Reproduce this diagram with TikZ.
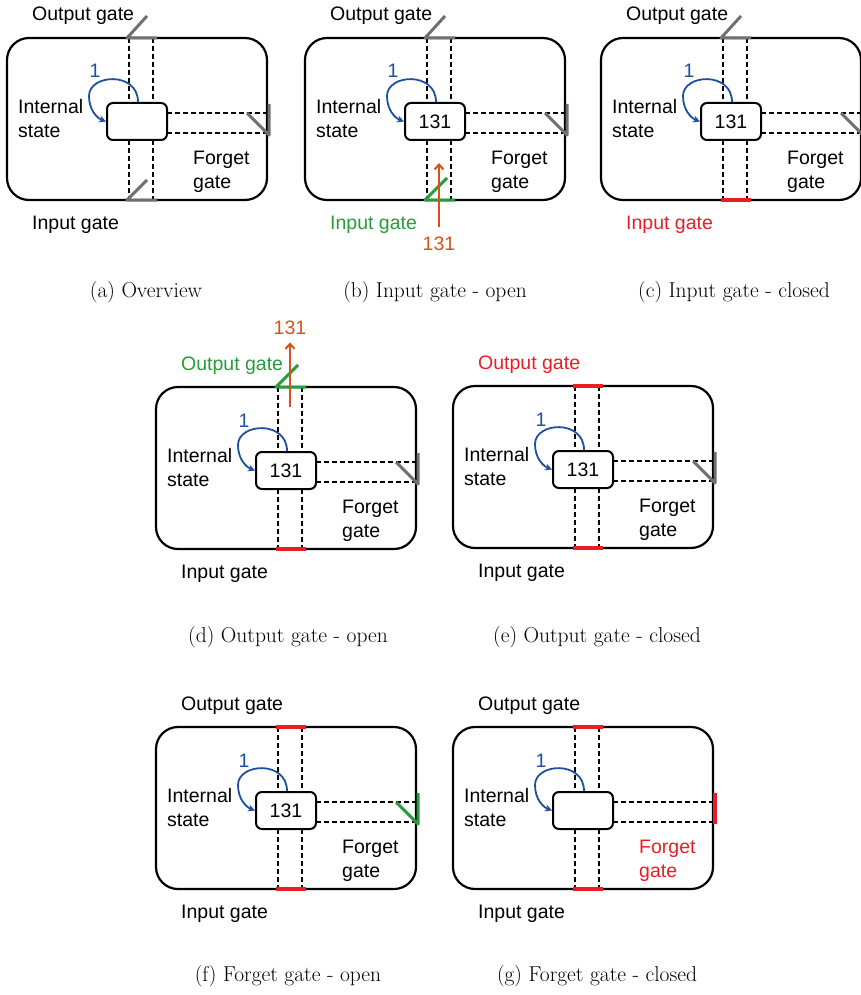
\documentclass[tikz,border=0pt]{standalone}
\usepackage{fontspec}
\newfontfamily\arialfont{Liberation Sans}
\usetikzlibrary{
  arrows.meta, % For arrow tips
  calc
}

\definecolor{gategray}{RGB}{112,112,112}
\definecolor{gategreen}{RGB}{40,155,60}
\definecolor{gatered}{RGB}{232,30,36}
\definecolor{valorange}{RGB}{214,82,26}
\definecolor{loopblue}{RGB}{30,80,160}

% one memory cell: #1 name, #2 upper left corner, #3 stored value,
% #4/#5/#6 colours of the input/output/forget labels
\newcommand{\lstmcell}[6]{%
  \begin{scope}[shift={#2}]
    \draw[cellbox] (0,0) rectangle (260,162);
    \node[statebox] (#1-st) at (130,83.5) {#3};

    % Tore
    \coordinate (#1-outL) at (120,0);
    \coordinate (#1-outR) at (150,0);
    \coordinate (#1-inL) at (120,162);
    \coordinate (#1-inR) at (150,162);
    \coordinate (#1-fgT) at (262,66);
    \coordinate (#1-fgB) at (262,97);

    % Kanaele
    \foreach \x in {122,146} {
      \draw[channel] (\x,0) -- (\x,65);
      \draw[channel] (\x,102) -- (\x,162);
    }
    \foreach \y in {75,95}
      \draw[channel] (160,\y) -- (262,\y);

    \node[lbl, text=#5, anchor=base west] (#1-outlbl) at (25,-17) {Output gate};
    \node[lbl, text=#4, anchor=base west] (#1-inlbl) at (25,191) {Input gate};
    \node[lbl, anchor=north west, align=left] (#1-intlbl) at (11,61) {Internal\\state};
    \node[lbl, text=#6, anchor=north west, align=left] (#1-fglbl) at (186,113) {Forget\\gate};

    \node[lbl, text=loopblue, anchor=base] (#1-one) at (88,40) {1};
    \draw[selfloop] ([xshift=1pt]#1-st.north) .. controls (131,33) and (82,36) .. (82,58)
      .. controls (82,72) and (90,80) .. (#1-st.west);
  \end{scope}
}

\begin{document}
\begin{tikzpicture}[
      x=1pt, y=-1pt, % picture measured in pixels, y pointing down
      cellbox/.style={line width=2.2pt, rounded corners=22pt},
      statebox/.style={draw, line width=2pt, rounded corners=6pt, minimum width=60pt,
        minimum height=37pt, inner sep=0pt, font=\arialfont\fontsize{19.5}{24}\selectfont},
      channel/.style={line width=1.6pt, dash pattern=on 5pt off 3pt},
      lbl/.style={inner sep=0pt, font=\arialfont\fontsize{19.5}{24}\selectfont},
      caption/.style={inner sep=0pt, font=\fontsize{21.5}{25}\selectfont},
      selfloop/.style={loopblue, line width=1.8pt, -{Stealth[length=7pt, width=7pt]}},
      valflow/.style={valorange, line width=2pt, -{Straight Barb[length=5pt, width=9pt]}},
      gatedoor/.style={line width=3pt, line join=round},
      gateshut/.style={gatered, line width=4.5pt},
    ]
    \useasboundingbox (0,0) rectangle (860,995);

    % (a)
    \lstmcell{a}{(7,38)}{}{black}{black}{black}
    \draw[gatedoor, gategray] (a-outR) -- (a-outL) -- ++(20,-22);
    \draw[gatedoor, gategray] (a-inR) -- (a-inL) -- ++(20,-20);
    \draw[gatedoor, gategray] (a-fgT) -- (a-fgB) -- ++(-22,-22);
    \node[caption] (a-cap) at (146,292) {(a) Overview};

    % (b)
    \lstmcell{b}{(305,38)}{131}{gategreen}{black}{black}
    \draw[gatedoor, gategray] (b-outR) -- (b-outL) -- ++(20,-22);
    \draw[gatedoor, gategreen] (b-inR) -- (b-inL) -- ++(22,-22);
    \draw[gatedoor, gategray] (b-fgT) -- (b-fgB) -- ++(-22,-22);
    \coordinate (b-inend) at (439,163);
    \node[lbl, text=valorange, anchor=base] (b-val) at (439,250) {131};
    \draw[valflow, shorten <=9pt] (b-val.north) -- (b-inend);
    \node[caption] (b-cap) at (435,292) {(b) Input gate - open};

    % (c)
    \lstmcell{c}{(601,38)}{131}{gatered}{black}{black}
    \draw[gatedoor, gategray] (c-outR) -- (c-outL) -- ++(20,-22);
    \draw[gateshut] (c-inL) -- (c-inR);
    \draw[gatedoor, gategray] (c-fgT) -- (c-fgB) -- ++(-22,-22);
    \node[caption] (c-cap) at (734,292) {(c) Input gate - closed};

    % (d)
    \lstmcell{d}{(156,387)}{131}{black}{gategreen}{black}
    \draw[gateshut] (d-inL) -- (d-inR);
    \draw[gatedoor, gategreen] (d-outR) -- (d-outL) -- ++(22,-22);
    \draw[gatedoor, gategray] (d-fgT) -- (d-fgB) -- ++(-22,-22);
    \coordinate (d-outstart) at (290,407);
    \node[lbl, text=valorange, anchor=base] (d-val) at (290,334) {131};
    \draw[valflow, shorten >=8pt] (d-outstart) -- (d-val.south);
    \node[caption] (d-cap) at (288,637) {(d) Output gate - open};

    % (e)
    \lstmcell{e}{(453,386)}{131}{black}{gatered}{black}
    \draw[gateshut] (e-inL) -- (e-inR);
    \draw[gateshut] (e-outL) -- (e-outR);
    \draw[gatedoor, gategray] (e-fgT) -- (e-fgB) -- ++(-22,-22);
    \node[caption] (e-cap) at (597,637) {(e) Output gate - closed};

    % (f)
    \lstmcell{f}{(156,727)}{131}{black}{black}{black}
    \draw[gateshut] (f-inL) -- (f-inR);
    \draw[gateshut] (f-outL) -- (f-outR);
    \draw[gatedoor, gategreen] (f-fgT) -- (f-fgB) -- ++(-22,-22);
    \node[caption] (f-cap) at (288,976) {(f) Forget gate - open};

    % (g)
    \lstmcell{g}{(453,727)}{}{black}{black}{gatered}
    \draw[gateshut] (g-inL) -- (g-inR);
    \draw[gateshut] (g-outL) -- (g-outR);
    \draw[gateshut] (g-fgT) -- (g-fgB);
    \node[caption] (g-cap) at (597,976) {(g) Forget gate - closed};
  \end{tikzpicture}
\end{document}
